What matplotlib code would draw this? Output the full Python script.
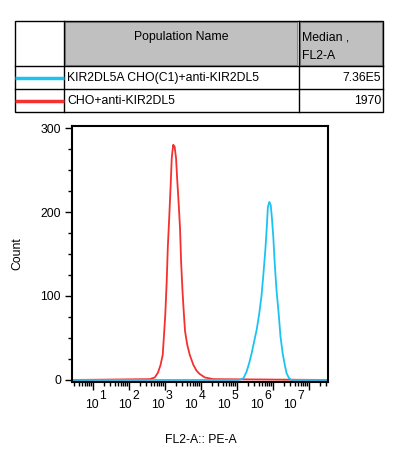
import matplotlib
matplotlib.use('Agg')
import matplotlib.pyplot as plt
import numpy as np
from matplotlib.patches import Rectangle
from matplotlib.lines import Line2D

plt.rcParams['font.family'] = ['Liberation Sans', 'DejaVu Sans']

W, H = 397, 465

# legend table
populations = ['KIR2DL5A CHO(C1)+anti-KIR2DL5', 'CHO+anti-KIR2DL5']
medians = ['7.36E5', '1970']
pop_colors = ['#1cc3f2', '#f5302e']

# histograms (x in log10 decades, y = count)
red_x = [2.58, 2.72, 2.81, 2.88, 2.94, 2.97, 3.01, 3.05, 3.08, 3.12, 3.16, 3.19,
         3.23, 3.27, 3.31, 3.34, 3.38, 3.42, 3.45, 3.49, 3.53, 3.56, 3.62, 3.69,
         3.79, 3.88, 3.97, 4.11, 4.34]
red_y = [1, 3, 9, 18, 30, 50, 77, 117, 157, 193, 232, 264,
         280, 278, 264, 240, 212, 181, 141, 105, 77, 58, 42, 30,
         18, 11, 7, 3, 1]
blue_x = [5.04, 5.18, 5.27, 5.34, 5.41, 5.47, 5.55, 5.62, 5.68, 5.73, 5.79, 5.83,
          5.86, 5.90, 5.94, 5.97, 6.01, 6.05, 6.10, 6.16, 6.21, 6.27, 6.33, 6.38,
          6.45, 6.52]
blue_y = [0, 2, 10, 20, 32, 44, 60, 79, 99, 123, 155, 182,
          206, 212, 208, 194, 171, 139, 107, 79, 52, 32, 18, 8,
          2, 0]

decades = [1, 2, 3, 4, 5, 6, 7]
xmin, xmax = 0.42, 7.53
FS = 8.8


def fx(px):
    return px / W


def fy(py):
    return 1 - py / H


fig = plt.figure(figsize=(W / 100, H / 100), dpi=100)

# ---- table ----
fig.patches.append(Rectangle((fx(65), fy(65)), (297 - 65) / W, 43 / H,
                             transform=fig.transFigure, facecolor='#c0c0c0',
                             edgecolor='#8a8a8a', lw=0.8))
fig.patches.append(Rectangle((fx(300), fy(65)), (382 - 300) / W, 43 / H,
                             transform=fig.transFigure, facecolor='#c0c0c0',
                             edgecolor='#8a8a8a', lw=0.8))
fig.patches.append(Rectangle((fx(15), fy(112)), (383 - 15) / W, (112 - 21) / H,
                             transform=fig.transFigure, facecolor='none',
                             edgecolor='black', lw=1.0))
for xv in [64, 299]:
    fig.lines.append(Line2D([fx(xv), fx(xv)], [fy(21), fy(112)],
                            transform=fig.transFigure, color='black', lw=1.0))
for yv in [66, 89]:
    fig.lines.append(Line2D([fx(15), fx(383)], [fy(yv), fy(yv)],
                            transform=fig.transFigure, color='black', lw=1.0))

fig.text(fx(181), fy(37), 'Population Name', ha='center', va='center', fontsize=FS)
fig.text(fx(302), fy(37), 'Median ,', ha='left', va='center', fontsize=FS)
fig.text(fx(302), fy(56), 'FL2-A', ha='left', va='center', fontsize=FS)

for i, (name, med, col) in enumerate(zip(populations, medians, pop_colors)):
    yc = 78 + 23 * i
    fig.lines.append(Line2D([fx(15), fx(64)], [fy(yc), fy(yc)],
                            transform=fig.transFigure, color=col, lw=2.5,
                            solid_capstyle='butt'))
    fig.text(fx(67), fy(yc), name, ha='left', va='center', fontsize=FS)
    fig.text(fx(381), fy(yc), med, ha='right', va='center', fontsize=FS)

# ---- histogram axes ----
ax = fig.add_axes([fx(72), fy(382), 256 / W, 256 / H])

rx = np.concatenate([[xmin], red_x, [xmax]])
ry = np.concatenate([[0], red_y, [0]])
bx = np.concatenate([[xmin], blue_x, [xmax]])
by = np.concatenate([[0], blue_y, [0]])
ax.plot(rx, ry, color=pop_colors[1], lw=1.3)
ax.plot(bx, by, color=pop_colors[0], lw=1.3)

ax.set_xlim(xmin, xmax)
ax.set_ylim(-2.4, 302.4)

for s in ax.spines.values():
    s.set_linewidth(1.5)

ax.set_yticks([0, 100, 200, 300])
ax.set_yticks(np.arange(0, 301, 25), minor=True)
ax.tick_params(axis='y', which='major', length=5, width=1, labelsize=FS, pad=3)
ax.tick_params(axis='y', which='minor', length=3, width=1)

minor = [d + np.log10(m) for d in range(0, 8) for m in range(2, 10)]
minor = [m for m in minor if xmin < m < xmax]
ax.set_xticks(decades)
ax.set_xticks(minor, minor=True)
ax.set_xticklabels([])
ax.tick_params(axis='x', which='major', length=6, width=1)
ax.tick_params(axis='x', which='minor', length=3, width=1)

# FlowJo-style decade labels, drifting left of their ticks
for k in decades:
    xl = k - 0.03 - 0.083 * (k - 1)
    ax.text(xl, -0.09, '10', transform=ax.get_xaxis_transform(),
            ha='center', va='center', fontsize=FS)
    ax.text(xl + 0.3, -0.053, str(k), transform=ax.get_xaxis_transform(),
            ha='center', va='center', fontsize=FS)

ax.set_ylabel('Count', fontsize=FS)
ax.yaxis.set_label_coords(-0.19, 0.5)
fig.text(fx(201), fy(440), 'FL2-A:: PE-A', ha='center', va='center', fontsize=FS)

fig.savefig('out.png', dpi=100)
